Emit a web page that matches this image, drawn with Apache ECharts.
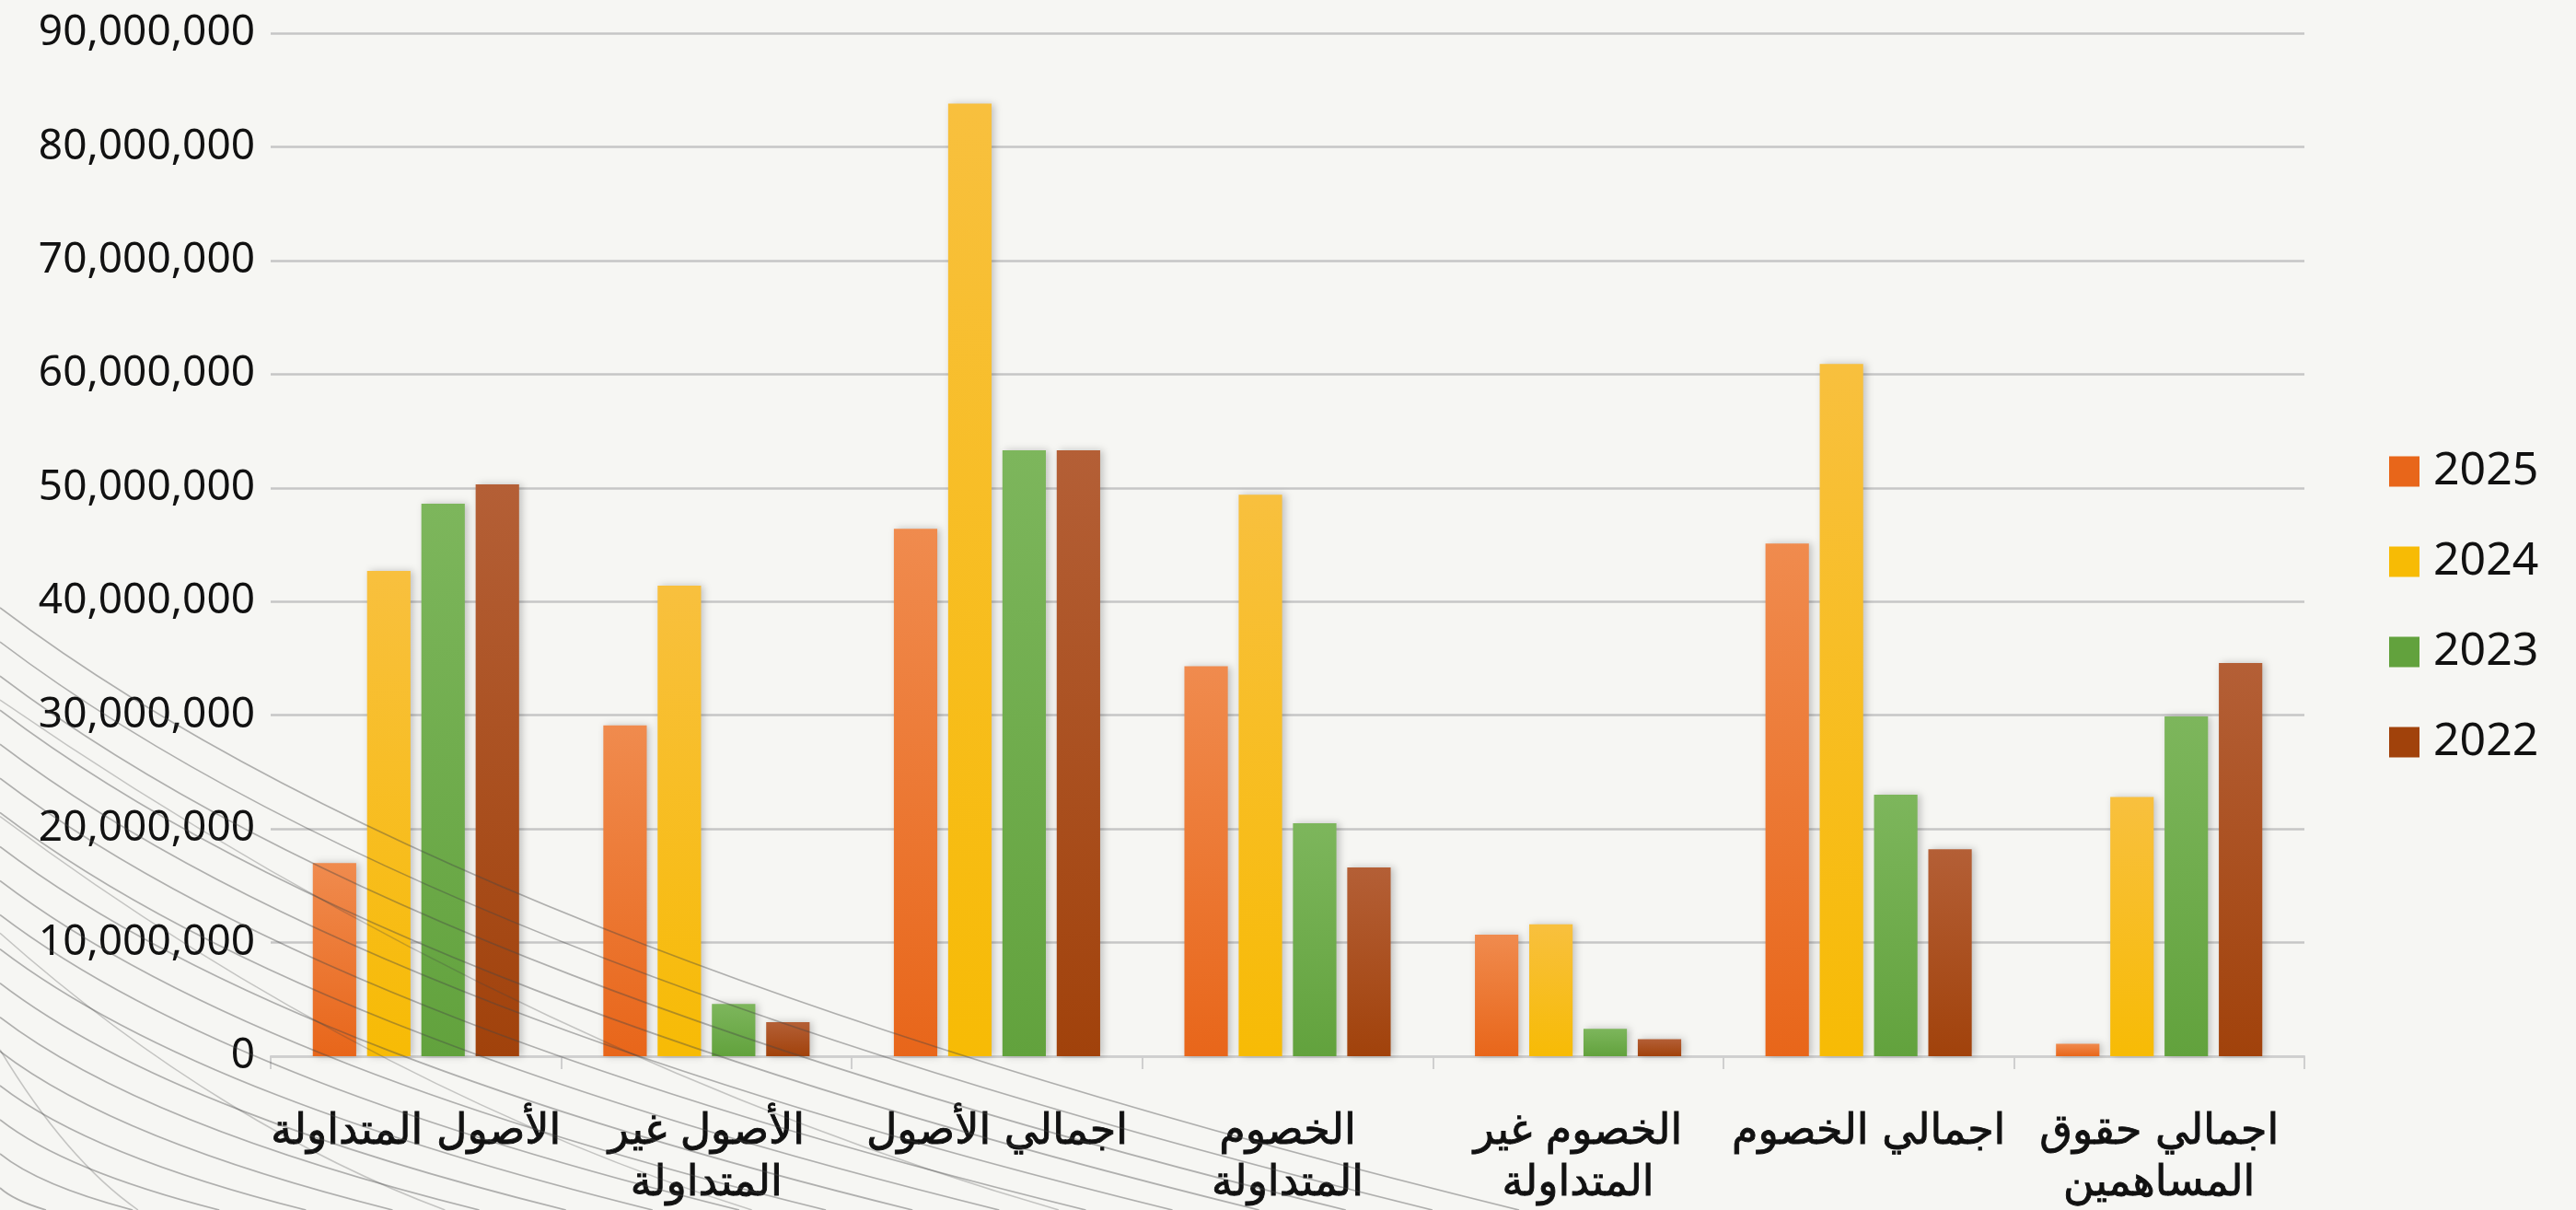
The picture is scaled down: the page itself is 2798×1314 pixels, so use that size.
<!DOCTYPE html>
<html>
<head>
<meta charset="utf-8">
<script src="https://cdn.jsdelivr.net/npm/echarts@6/dist/echarts.min.js"></script>
<style>
html,body{margin:0;padding:0;background:#f6f6f3;}
#chart{width:2798px;height:1314px;}
</style>
</head>
<body>
<div id="chart"></div>
<script>
// ---- data ----
const categories = [
  'الأصول المتداولة',
  'الأصول غير\nالمتداولة',
  'اجمالي الأصول',
  'الخصوم\nالمتداولة',
  'الخصوم غير\nالمتداولة',
  'اجمالي الخصوم',
  'اجمالي حقوق\nالمساهمين'
];
const seriesNames = ['2025', '2024', '2023', '2022'];
const values2025 = [17000000, 29100000, 46400000, 34300000, 10700000, 45100000, 1100000];
const values2024 = [42700000, 41400000, 83800000, 49400000, 11600000, 60900000, 22800000];
const values2023 = [48600000, 4600000, 53300000, 20500000, 2400000, 23000000, 29900000];
const values2022 = [50300000, 3000000, 53300000, 16600000, 1500000, 18200000, 34600000];
const yMin = 0, yMax = 90000000, yStep = 10000000;

// ---- styling ----
const palette = [
  ['#f08b4e', '#e8661a'],
  ['#f8c03e', '#f7bb05'],
  ['#7db65c', '#62a23d'],
  ['#b45f36', '#a1420b']
];
const allValues = [values2025, values2024, values2023, values2022];

function grad(c) {
  return new echarts.graphic.LinearGradient(0, 0, 0, 1, [
    {offset: 0, color: c[0]}, {offset: 1, color: c[1]}
  ]);
}

const series = seriesNames.map((name, i) => ({
  name: name,
  type: 'bar',
  data: allValues[i],
  barGap: '25%',
  barCategoryGap: '29%',
  itemStyle: {
    color: grad(palette[i]),
    shadowBlur: 8,
    shadowOffsetX: 3,
    shadowOffsetY: 0,
    shadowColor: 'rgba(0,0,0,0.22)'
  }
}));

// decorative background curves (bottom-left swoosh), purely ornamental
const curves = [];
const N = 18;
for (let i = 0; i < N; i++) {
  const t = i / (N - 1);
  const y0 = 660 + t * 630;
  const x1 = 1600 * (1 - t) + 50;
  const h = 1314 - y0;
  curves.push({
    type: 'bezierCurve',
    z: 100,
    silent: true,
    shape: {x1: 0, y1: y0, x2: x1, y2: 1314,
            cpx1: x1 * 0.22, cpy1: y0 + h * 0.42,
            cpx2: x1 * 0.58, cpy2: y0 + h * 0.74},
    style: {stroke: 'rgba(70,70,70,0.4)', lineWidth: 1.7, fill: null}
  });
}
// a few fainter crossing lines
const M = 4;
for (let i = 0; i < M; i++) {
  const t = i / (M - 1);
  const y0 = 760 + t * 380;
  const x1 = 1000 * (1 - t) + 150;
  const h = 1314 - y0;
  curves.push({
    type: 'bezierCurve',
    z: 100,
    silent: true,
    shape: {x1: 0, y1: y0, x2: x1, y2: 1314,
            cpx1: x1 * 0.35, cpy1: y0 + h * 0.5,
            cpx2: x1 * 0.7, cpy2: y0 + h * 0.82},
    style: {stroke: 'rgba(70,70,70,0.28)', lineWidth: 1.5, fill: null}
  });
}

const chart = echarts.init(document.getElementById('chart'), null, {renderer: 'canvas'});
chart.setOption({
  backgroundColor: '#f6f6f3',
  animation: false,
  color: palette.map(p => p[1]),
  grid: {left: 294, right: 295, top: 36, bottom: 167, containLabel: false},
  legend: {
    orient: 'vertical',
    left: 2590,
    top: 482,
    itemWidth: 33,
    itemHeight: 33,
    itemGap: 48,
    icon: 'rect',
    data: seriesNames.map((n, i) => ({name: n, itemStyle: {color: palette[i][1]}})),
    textStyle: {fontFamily: 'Noto Sans', fontSize: 50, color: '#111', padding: [0, 0, 0, 10]}
  },
  xAxis: {
    type: 'category',
    data: categories,
    axisLine: {show: true, lineStyle: {color: '#cfcfcf', width: 2}},
    axisTick: {show: true, alignWithLabel: false, length: 14, lineStyle: {color: '#cfcfcf', width: 2}},
    axisLabel: {
      interval: 0,
      margin: 55,
      fontFamily: 'DejaVu Sans',
      fontSize: 46,
      lineHeight: 56,
      color: '#111',
      textBorderColor: '#111',
      textBorderWidth: 0.9
    }
  },
  yAxis: {
    type: 'value',
    min: yMin,
    max: yMax,
    interval: yStep,
    axisLine: {show: false},
    axisTick: {show: false},
    splitLine: {lineStyle: {color: '#c6c6c6', width: 2.5}},
    axisLabel: {
      margin: 17,
      fontFamily: 'Noto Sans',
      fontSize: 46,
      color: '#111',
      formatter: v => v.toLocaleString('en-US')
    }
  },
  series: series,
  graphic: curves
});
</script>
</body>
</html>
